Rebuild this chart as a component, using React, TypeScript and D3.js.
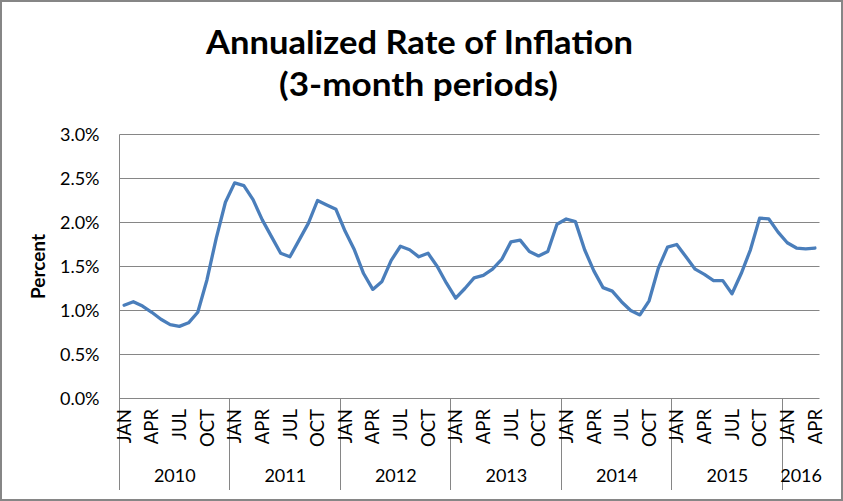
import React from "react";
import * as d3 from "d3";

const years = ["2010", "2011", "2012", "2013", "2014", "2015", "2016"];
const monthNames = ["JAN", "FEB", "MAR", "APR", "MAY", "JUN", "JUL", "AUG", "SEP", "OCT", "NOV", "DEC"];
const shownMonths = ["JAN", "APR", "JUL", "OCT"];
const yTicks = [0, 0.5, 1.0, 1.5, 2.0, 2.5, 3.0];
const inflation = [
  1.06, 1.10, 1.05, 0.98, 0.90, 0.84, 0.82, 0.86, 0.98, 1.35, 1.82, 2.23,
  2.45, 2.42, 2.26, 2.03, 1.84, 1.65, 1.61, 1.80, 1.99, 2.25, 2.20, 2.15,
  1.90, 1.69, 1.42, 1.24, 1.33, 1.57, 1.73, 1.69, 1.61, 1.65, 1.50, 1.31,
  1.14, 1.25, 1.37, 1.40, 1.47, 1.58, 1.78, 1.80, 1.67, 1.62, 1.67, 1.98,
  2.04, 2.01, 1.69, 1.45, 1.26, 1.22, 1.10, 1.00, 0.95, 1.11, 1.48, 1.72,
  1.75, 1.61, 1.47, 1.41, 1.34, 1.34, 1.19, 1.42, 1.69, 2.05, 2.04, 1.89,
  1.77, 1.71, 1.70, 1.71,
];

const W = 843;
const H = 501;
const FONT = "Lato, 'Open Sans', sans-serif";

export default function App() {
  const n = inflation.length;
  const x = d3.scaleBand<number>().domain(d3.range(n)).range([119.5, 819.5]).paddingInner(0).paddingOuter(0);
  const y = d3.scaleLinear().domain([0, 3.0]).range([398.5, 134.5]);
  const bw = x.bandwidth();
  const cx = (i: number) => (x(i) as number) + bw / 2;

  const line = d3
    .line<number>()
    .x((_, i) => cx(i))
    .y((d) => y(d));

  const cats = inflation.map((_, i) => ({
    i,
    year: years[Math.floor(i / 12)],
    month: monthNames[i % 12],
  }));

  const yearGroups = years
    .map((yr) => {
      const idx = cats.filter((c) => c.year === yr).map((c) => c.i);
      if (!idx.length) return null;
      const x0 = x(idx[0]) as number;
      const x1 = (x(idx[idx.length - 1]) as number) + bw;
      return { yr, x0, x1 };
    })
    .filter(Boolean) as { yr: string; x0: number; x1: number }[];

  const sepBottom = 490;

  return (
    <svg
      width={W}
      height={H}
      viewBox={`0 0 ${W} ${H}`}
      style={{ position: "absolute", left: 0, top: 0, background: "#fff" }}
      fontFamily={FONT}
    >
      <rect x={0} y={0} width={W} height={H} fill="#fff" />
      <rect x={1} y={1} width={W - 2} height={H - 2} fill="none" stroke="#868686" strokeWidth={2} />

      {/* title */}
      <text
        x={206}
        y={54}
        fontSize={32}
        fontWeight={700}
        fill="#000"
        textLength={427}
        lengthAdjust="spacingAndGlyphs"
      >
        Annualized Rate of Inflation
      </text>
      <text
        x={279}
        y={96}
        fontSize={32}
        fontWeight={700}
        fill="#000"
        textLength={279}
        lengthAdjust="spacingAndGlyphs"
      >
        (3-month periods)
      </text>

      {/* gridlines */}
      {yTicks.filter((t) => t > 0).map((t) => (
        <line key={t} x1={119.5} x2={819.5} y1={y(t)} y2={y(t)} stroke="#868686" strokeWidth={1} />
      ))}
      {/* y tick labels */}
      {yTicks.map((t) => (
        <text key={"l" + t} x={99.5} y={y(t)} dy="0.35em" textAnchor="end" fontSize={18} fill="#000">
          {t.toFixed(1) + "%"}
        </text>
      ))}
      <text
        transform={`translate(38,266.5) rotate(-90)`}
        textAnchor="middle"
        dy="0.35em"
        fontSize={19}
        fontWeight={700}
        fill="#000"
      >
        Percent
      </text>

      {/* axes */}
      <line x1={119.5} x2={119.5} y1={134.5} y2={sepBottom} stroke="#868686" strokeWidth={1} />
      <line x1={119.5} x2={819.5} y1={398.5} y2={398.5} stroke="#868686" strokeWidth={1} />
      {yearGroups.slice(1).map((g) => (
        <line
          key={"s" + g.yr}
          x1={Math.round(g.x0) - 0.5}
          x2={Math.round(g.x0) - 0.5}
          y1={398.5}
          y2={sepBottom}
          stroke="#868686"
          strokeWidth={1}
        />
      ))}

      {/* month labels */}
      {cats
        .filter((c) => shownMonths.includes(c.month))
        .map((c) => (
          <text
            key={"m" + c.i}
            transform={`translate(${cx(c.i)},409) rotate(-90)`}
            textAnchor="end"
            dy="0.36em"
            fontSize={18.5}
            fill="#000"
          >
            {c.month}
          </text>
        ))}
      {/* year labels */}
      {yearGroups.map((g) => (
        <text key={"y" + g.yr} x={(g.x0 + g.x1) / 2} y={482} textAnchor="middle" fontSize={18} fill="#000">
          {g.yr}
        </text>
      ))}

      {/* series */}
      <path
        d={line(inflation) || ""}
        fill="none"
        stroke="#4A7EBB"
        strokeWidth={3.3}
        strokeLinejoin="round"
        strokeLinecap="round"
      />
    </svg>
  );
}
